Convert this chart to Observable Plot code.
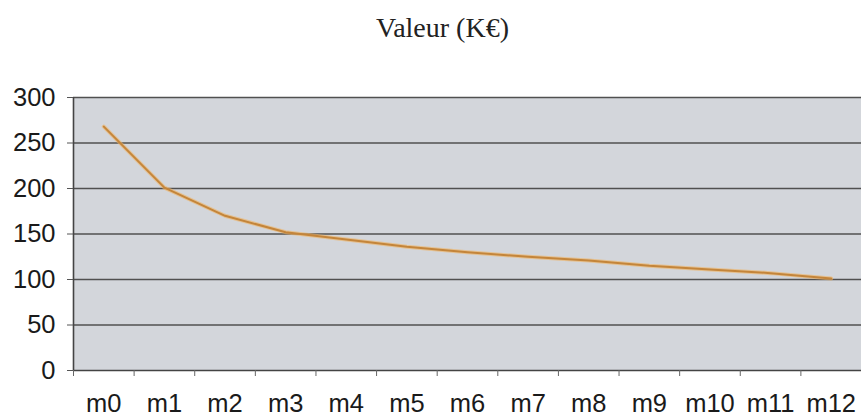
<!DOCTYPE html>
<html>
<head>
<meta charset="utf-8">
<script src="https://cdn.jsdelivr.net/npm/d3@7"></script>
<script src="https://cdn.jsdelivr.net/npm/@observablehq/plot@0.6"></script>
<style>
  html, body { margin: 0; padding: 0; background: #fff; }
  #title { height: 70px; width: 861px; box-sizing: border-box; padding-left: 24px; text-align: center;
           font-family: "Liberation Serif", "Times New Roman", serif; font-size: 28px; color: #222; line-height: 56px; }
</style>
</head>
<body>
<div id="title">Valeur (K€)</div>
<div id="chart"></div>
<script>
const months = ["m0","m1","m2","m3","m4","m5","m6","m7","m8","m9","m10","m11","m12"];
const values = [268, 201, 170, 152, 144, 136, 130, 125, 121, 115, 111, 107, 101];
const yTicks = [0, 50, 100, 150, 200, 250, 300];

const data = months.map((m, i) => ({i, m, v: values[i]}));
const idx = months.map((m, i) => i);
const bounds = [...idx.map(i => i - 0.5), months.length - 0.5];

const chart = Plot.plot({
  width: 861,
  height: 348,
  marginTop: 27,
  marginBottom: 48,
  marginLeft: 73,
  marginRight: 0,
  style: { fontFamily: "Liberation Sans, Arial, sans-serif", fontSize: "25.5px", color: "#1a1a1a", background: "transparent" },
  x: { domain: [-0.5, months.length - 0.5] },
  y: { domain: [0, 300] },
  marks: [
    Plot.frame({ fill: "#d3d6db", stroke: null }),
    Plot.ruleY(yTicks.filter(t => t > 0), { stroke: "#505050", strokeWidth: 1.3 }),
    Plot.ruleY([0], { stroke: "#444", strokeWidth: 1.6 }),
    Plot.ruleX([-0.5], { stroke: "#444", strokeWidth: 1.6 }),
    Plot.axisY({ ticks: yTicks, tickSize: 6, tickPadding: 12, label: null, stroke: "#555" }),
    Plot.axisX({ ticks: bounds, tickSize: 6, tickFormat: () => "", label: null, stroke: "#666" }),
    Plot.axisX({ ticks: idx, tickSize: 0, tickPadding: 23, tickFormat: i => months[i], label: null }),
    Plot.line(data, { x: "i", y: "v", stroke: "#f0b260", strokeWidth: 4, strokeOpacity: 0.6 }),
    Plot.line(data, { x: "i", y: "v", stroke: "#c4853a", strokeWidth: 2 })
  ]
});
document.getElementById("chart").appendChild(chart);
</script>
</body>
</html>
